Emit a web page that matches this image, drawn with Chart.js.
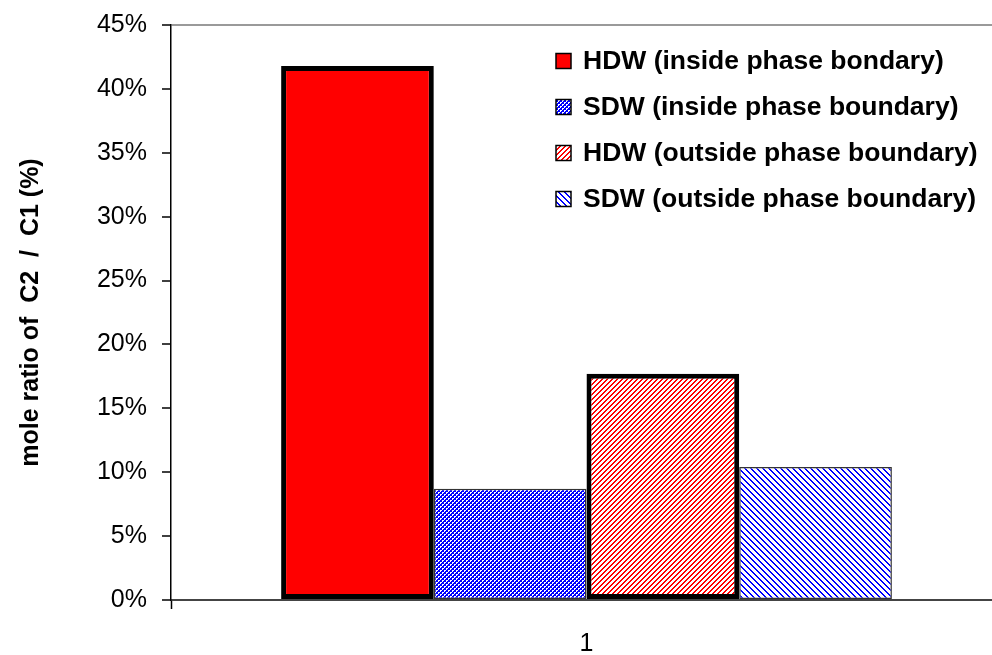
<!DOCTYPE html>
<html>
<head>
<meta charset="utf-8">
<script src="https://cdn.jsdelivr.net/npm/chart.js@4"></script>
<style>
  html, body { margin: 0; padding: 0; background: #fff; overflow: hidden; }
  #wrap { position: relative; width: 1002px; height: 655px; }
</style>
</head>
<body>
<div id="wrap"><canvas id="myChart"></canvas></div>
<script>
const categories = ["1"];
const seriesLabels = [
  "HDW (inside phase bondary)",
  "SDW (inside phase boundary)",
  "HDW (outside phase boundary)",
  "SDW (outside phase boundary)",
];
const hdwInside = [41.8];
const sdwInside = [8.7];
const hdwOutside = [17.7];
const sdwOutside = [10.4];
const yTickValues = [0, 5, 10, 15, 20, 25, 30, 35, 40, 45];

const ctx = document.querySelector("#myChart");

// small pixel tiles used as bar fills
function makePattern(size, color, test) {
  const tile = document.createElement("canvas");
  tile.width = size;
  tile.height = size;
  const t = tile.getContext("2d");
  t.fillStyle = "#fff";
  t.fillRect(0, 0, size, size);
  t.fillStyle = color;
  for (let y = 0; y < size; y++) {
    for (let x = 0; x < size; x++) {
      if (test(x, y)) t.fillRect(x, y, 1, 1);
    }
  }
  return ctx.getContext("2d").createPattern(tile, "repeat");
}

const checkBlue = makePattern(4, "#0000ff", (x, y) =>
  (Math.floor(x / 2) + Math.floor(y / 2)) % 2 === 0 || (x === 3 && y === 1) || (x === 1 && y === 3)
);
const stripeRed = makePattern(5, "#ff0000", (x, y) => (x + y) % 5 < 2);
const stripeBlue = makePattern(6, "#0000ff", (x, y) => ((x - y) % 6 + 6) % 6 < 2);

const fills = ["#ff0000", checkBlue, stripeRed, stripeBlue];
const seriesData = [hdwInside, sdwInside, hdwOutside, sdwOutside];

const datasets = seriesData.map((d, i) => ({
  label: seriesLabels[i],
  data: d,
  backgroundColor: fills[i],
  borderColor: i % 2 === 0 ? "#000" : "#333",
  borderWidth: i % 2 === 0 ? 5 : 1.5,
  borderSkipped: false,
  categoryPercentage: 0.735,
  barPercentage: 1,
}));

// legend drawn inside the plot, top right
const boxLegend = {
  id: "boxLegend",
  afterDraw(chart) {
    const c = chart.ctx;
    const rows = [61, 107, 153, 199];
    c.save();
    chart.data.datasets.forEach((ds, i) => {
      const y = rows[i];
      c.fillStyle = ds.backgroundColor;
      c.fillRect(556, y - 7.5, 15, 15);
      c.lineWidth = 1.5;
      c.strokeStyle = "#000";
      c.strokeRect(556, y - 7.5, 15, 15);
      c.fillStyle = "#000";
      c.font = "bold 26.5px 'Liberation Sans', Arial, sans-serif";
      c.textBaseline = "middle";
      c.textAlign = "left";
      c.fillText(ds.label, 583, y + 1);
    });
    c.restore();
  },
};

new Chart(ctx, {
  type: "bar",
  data: {
    labels: categories,
    datasets: datasets,
  },
  options: {
    responsive: true,
    maintainAspectRatio: false,
    animation: false,
    layout: { padding: { top: 25, left: 0, right: 0, bottom: 0 } },
    plugins: {
      legend: { display: false },
      tooltip: { enabled: false },
    },
    scales: {
      x: {
        grid: {
          offset: true,
          drawOnChartArea: false,
          drawTicks: true,
          tickLength: 9,
          tickColor: "#000",
          tickWidth: 1.5,
        },
        border: { display: true, color: "#444", width: 2 },
        ticks: {
          color: "#000",
          padding: 20,
          font: { family: "'Liberation Sans', Arial, sans-serif", size: 25 },
        },
        afterFit(scale) {
          scale.height = 55;
        },
      },
      y: {
        min: 0,
        max: 45,
        afterBuildTicks(scale) {
          scale.ticks = yTickValues.map((v) => ({ value: v }));
        },
        grid: {
          color: (c) => (c.tick && c.tick.value === 45 ? "#9a9a9a" : "rgba(0,0,0,0)"),
          lineWidth: 2,
          tickLength: 9,
          tickColor: "#000",
          tickWidth: 1.5,
        },
        border: { display: true, color: "#000", width: 1.5 },
        ticks: {
          color: "#000",
          padding: 15,
          font: { family: "'Liberation Sans', Arial, sans-serif", size: 25 },
          callback: (v) => v + "%",
        },
        title: {
          display: true,
          text: "mole ratio of  C2  /  C1 (%)",
          color: "#000",
          padding: { top: 16, bottom: 0 },
          font: { family: "'Liberation Sans', Arial, sans-serif", size: 25, weight: "bold" },
        },
        afterFit(scale) {
          scale.width = 171;
          // keep the label overhang from pushing the plot down
          scale.paddingTop = 10;
          scale.paddingBottom = 10;
        },
      },
    },
  },
  plugins: [boxLegend],
});
</script>
</body>
</html>
